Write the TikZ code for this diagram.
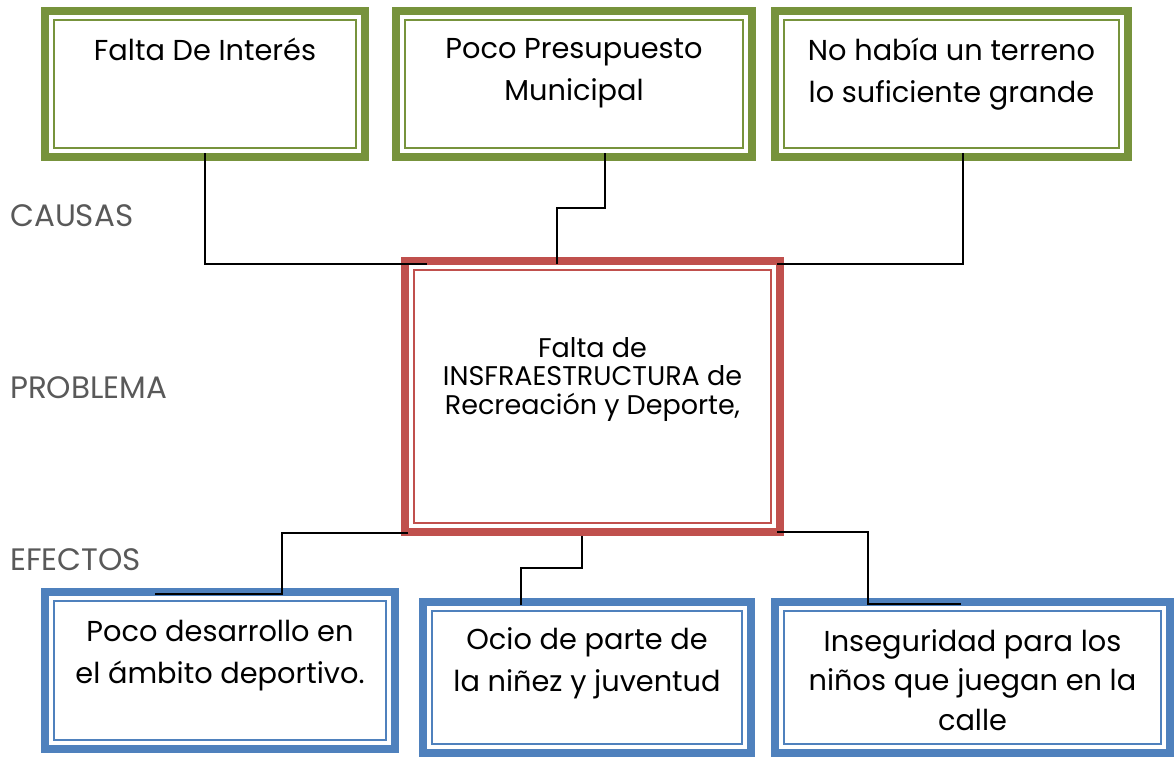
\documentclass[tikz,border=0pt]{standalone}
\usepackage{fontspec}
\setmainfont{Poppins}
\definecolor{causaverde}{RGB}{119,147,60}
\definecolor{problemarojo}{RGB}{192,80,77}
\definecolor{efectoazul}{RGB}{79,129,189}
\definecolor{etiquetagris}{RGB}{89,89,89}
\tikzset{
  caja/.style={rectangle, line width=8pt, outer sep=4pt, inner sep=0pt, fill=white},
  causa/.style={caja, draw=causaverde},
  problema/.style={caja, draw=problemarojo},
  efecto/.style={caja, draw=efectoazul},
  texto/.style={inner sep=0pt, align=center, anchor=north, font=\fontsize{28.8}{42}\selectfont},
  etiqueta/.style={inner sep=0pt, anchor=north west, text=etiquetagris, font=\fontsize{31}{35}\selectfont},
  conector/.style={line width=2pt, black}
}
\begin{document}
\begin{tikzpicture}[x=1pt,y=-1pt]
	\useasboundingbox (0,0) rectangle (1174,757);
        % causas
        \node[causa, minimum width=320pt, minimum height=146pt] (causa1) at (205,84) {};
        \node[causa, minimum width=356pt, minimum height=146pt] (causa2) at (574,84) {};
        \node[causa, minimum width=353pt, minimum height=146pt] (causa3) at (951.5,84) {};
        % problema
        \node[problema, minimum width=375pt, minimum height=271pt] (problema) at (592.5,396.5) {};
        % efectos
        \node[efecto, minimum width=350pt, minimum height=157pt] (efecto1) at (220,670.5) {};
        \node[efecto, minimum width=328pt, minimum height=151pt] (efecto2) at (587,677.5) {};
        \node[efecto, minimum width=395pt, minimum height=151pt] (efecto3) at (972.5,677.5) {};

        % linea interior delgada
        \foreach \n/\c in {causa1/causaverde, causa2/causaverde, causa3/causaverde,
            problema/problemarojo, efecto1/efectoazul, efecto2/efectoazul, efecto3/efectoazul}
            \draw[\c, line width=2.5pt] ([shift={(13pt,-13pt)}]\n.north west) rectangle ([shift={(-13pt,13pt)}]\n.south east);

        % textos de las cajas
        \node[texto] (tcausa1) at (205,38) {Falta De Interés};
        \node[texto] (tcausa2) at (574,38) {Poco Presupuesto\\Municipal};
        \node[texto] (tcausa3) at (951.5,38) {No había un terreno\\lo suficiente grande};
        \node[texto, font=\fontsize{27}{28.5}\selectfont] (tproblema) at (592.5,337) {Falta de\\INSFRAESTRUCTURA de\\Recreación y Deporte,};
        \node[texto] (tefecto1) at (220,620) {Poco desarrollo en\\el ámbito deportivo.};
        \node[texto] (tefecto2) at (587,627) {Ocio de parte de\\la niñez y juventud};
        \node[texto, font=\fontsize{28.8}{39.5}\selectfont] (tefecto3) at (972.5,629) {Inseguridad para los\\niños que juegan en la\\calle};

        % etiquetas
        \node[etiqueta] (causas) at (10,204) {CAUSAS};
        \node[etiqueta] (problemalbl) at (10,376) {PROBLEMA};
        \node[etiqueta] (efectos) at (10,548) {EFECTOS};

        % conectores causas
        \draw[conector] ([yshift=8pt]causa1.south) |- ([xshift=26pt,yshift=-7pt]problema.north west);
        \draw[conector] ([xshift=31pt,yshift=8pt]causa2.south) -- ++(0,55) -| ([xshift=-35.5pt,yshift=-7pt]problema.north);
        \draw[conector] ([xshift=11.5pt,yshift=8pt]causa3.south) |- ([xshift=-7pt,yshift=-7pt]problema.north east);
        % conectores efectos
        \draw[conector] ([xshift=7pt,yshift=3pt]problema.south west) -- ++(-126,0) |- ([xshift=-65pt,yshift=-6pt]efecto1.north);
        \draw[conector] ([xshift=-10.5pt]problema.south) -- ++(0,32) -| ([xshift=-66pt,yshift=-7pt]efecto2.north);
        \draw[conector] ([xshift=-7pt,yshift=4pt]problema.south east) -- ++(91,0) |- ([xshift=-11.5pt,yshift=-6pt]efecto3.north);
\end{tikzpicture}
\end{document}
